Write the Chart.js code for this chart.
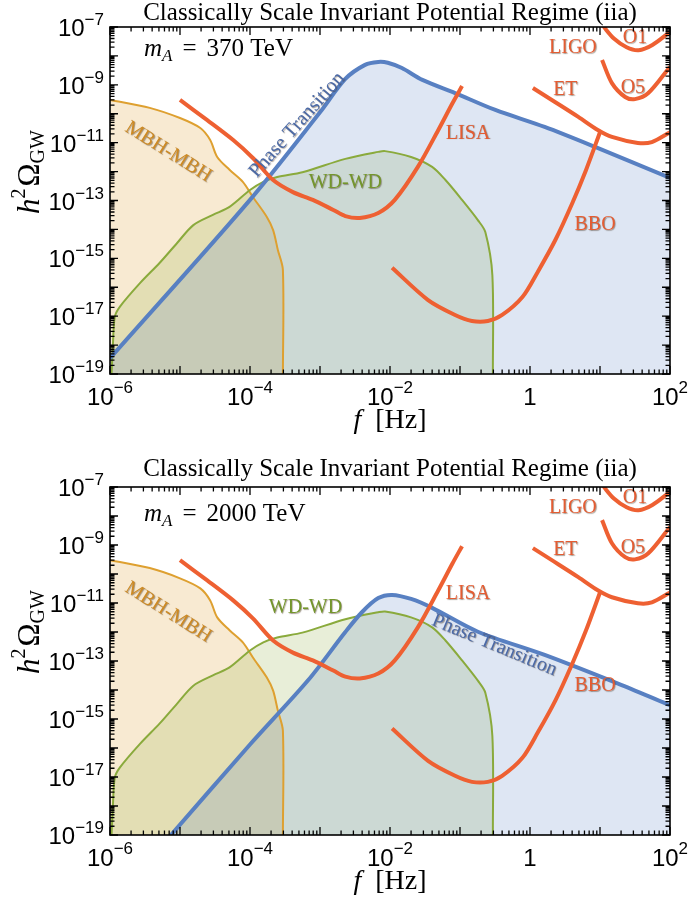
<!DOCTYPE html>
<html><head><meta charset="utf-8">
<script src="https://cdn.jsdelivr.net/npm/chart.js@4.4.1/dist/chart.umd.min.js"></script>
<style>
html,body{margin:0;padding:0;background:#fff;}
canvas{display:block;}
</style></head><body>
<canvas id="c1" width="691" height="455"></canvas>
<canvas id="c2" width="691" height="454"></canvas>
<script>
// ---------- text ----------
const TITLE = 'Classically Scale Invariant Potential Regime (iia)';
const massLabels = ['370 TeV', '2000 TeV'];

// ---------- ticks ----------
const xTickValues = [1e-6, 1e-4, 1e-2, 1, 1e2];
const xTickLabels = ['10^−6', '10^−4', '10^−2', '1', '10^2'];
const yTickValues = [1e-7, 1e-9, 1e-11, 1e-13, 1e-15, 1e-17, 1e-19];
const yTickLabels = ['10^−7', '10^−9', '10^−11', '10^−13', '10^−15', '10^−17', '10^−19'];

// ---------- astrophysical foregrounds ----------
const mbhF = [1e-6, 3.7e-6, 1e-5, 1.95e-5, 2.7e-5, 3.4e-5, 5.1e-5, 7.9e-5, 1.1e-4, 1.74e-4, 2.14e-4, 2.5e-4, 2.95e-4, 2.95e-4];
const mbhOmega = [3.0e-10, 1.6e-10, 7.1e-11, 3.2e-11, 1.23e-11, 3.2e-12, 1.15e-12, 4.4e-13, 1.32e-13, 2.7e-14, 9.5e-15, 1.95e-15, 4.0e-16, 8e-20];

const wdF = [1.05e-6, 1.1e-6, 1.17e-6, 1.38e-6, 2.7e-6, 5.1e-6, 9.1e-6, 1.55e-5, 2.95e-5, 5.1e-5, 1e-4, 1.55e-4, 2.45e-4, 5.6e-4, 2.3e-3, 6.8e-3, 8.5e-3, 2.0e-2, 4.0e-2, 6.2e-2, 0.107, 0.18, 0.23, 0.29, 0.295];
const wdOmega = [9e-20, 1e-18, 9.3e-18, 2.1e-17, 1.41e-16, 6.9e-16, 3.4e-15, 1.41e-14, 3.2e-14, 6.0e-14, 2.3e-13, 4.4e-13, 6.5e-13, 9.5e-13, 2.75e-12, 4.8e-12, 5.1e-12, 3.2e-12, 1.45e-12, 5.1e-13, 1.05e-13, 2.1e-14, 8.1e-15, 2.6e-16, 9e-20];

// ---------- phase transition signals ----------
const ptTopF = [1e-6, 1e-4, 1e-3, 2.3e-3, 4.4e-3, 6.8e-3, 9.3e-3, 1.48e-2, 2.9e-2, 8.5e-2, 0.32, 1.62, 8.5, 100];
const ptTopOmega = [3.5e-19, 1.05e-13, 1.12e-10, 1.6e-9, 4.9e-9, 6.2e-9, 5.8e-9, 3.8e-9, 1.48e-9, 5.2e-10, 1.35e-10, 3.5e-11, 7.1e-12, 6.0e-13];

const ptBotF = [6.3e-6, 1e-4, 6.8e-4, 2.3e-3, 4.0e-3, 6.8e-3, 1.07e-2, 2.0e-2, 4.0e-2, 0.18, 1.62, 20.4, 100];
const ptBotOmega = [6.3e-20, 1.32e-16, 2.2e-14, 1.0e-12, 4.9e-12, 1.48e-11, 1.9e-11, 1.38e-11, 6.8e-12, 1.02e-12, 1.62e-13, 1.48e-14, 3.0e-15];

// ---------- detector sensitivities ----------
const lisaF = [1e-5, 2.45e-5, 5.75e-5, 1.1e-4, 2.14e-4, 4.1e-4, 7.9e-4, 1.55e-3, 2.3e-3, 3.7e-3, 6.8e-3, 1.17e-2, 2.5e-2, 4.9e-2, 7.8e-2, 0.107];
const lisaOmega = [3.0e-10, 6.0e-11, 1.23e-11, 2.95e-12, 5.1e-13, 1.95e-13, 1.05e-13, 4.7e-14, 2.9e-14, 2.5e-14, 3.7e-14, 1.05e-13, 1.45e-12, 2.75e-11, 2.3e-10, 9.1e-10];

const bboF = [1.07e-2, 3.5e-2, 8.5e-2, 0.148, 0.25, 0.4, 0.78, 1.29, 2.3, 4.0, 6.3, 10];
const bboOmega = [4.7e-16, 3.6e-17, 1.1e-17, 6.8e-18, 6.8e-18, 1.1e-17, 4.6e-17, 3.4e-16, 4.3e-15, 7.9e-14, 1.12e-12, 2.3e-11];

const etF = [1.1, 2.05, 4.9, 9.3, 14.8, 34.7, 55, 100];
const etOmega = [7.8e-10, 3.0e-10, 7.8e-11, 2.75e-11, 1.58e-11, 9.8e-12, 1.05e-11, 2.3e-11];

const o1F = [11, 15.8, 24, 35.5, 56, 100];
const o1Omega = [1.1e-7, 4.0e-8, 2.0e-8, 1.58e-8, 2.4e-8, 6.8e-8];

const o5F = [10.7, 14.8, 22.9, 31.6, 49, 100];
const o5Omega = [7.2e-9, 1.15e-9, 3.8e-10, 3.2e-10, 5.2e-10, 4.2e-9];

// ---------- styles ----------
const SERIF = '"Liberation Serif","Times New Roman",serif';
const SANS = '"Liberation Sans",Arial,Helvetica,sans-serif';
const RED = 'rgb(238,96,50)';
const RED_TXT = 'rgb(228,92,50)';
const BLUE = 'rgb(88,128,194)';
const BLUE_TXT = 'rgb(76,106,166)';
const ORANGE = 'rgb(222,160,48)';
const ORANGE_TXT = 'rgb(205,138,36)';
const GREEN = 'rgb(138,170,60)';
const GREEN_TXT = 'rgb(116,150,44)';

const pts = (fs, os) => fs.map((f, i) => ({x: f, y: os[i]}));

function drawPow(ctx, label, x, y, align, baseSize, expSize, rise) {
  const parts = label.split('^');
  const b = parts[0], e = parts[1];
  ctx.font = baseSize + 'px ' + SANS;
  const wb = ctx.measureText(b).width;
  let we = 0;
  if (e) { ctx.font = expSize + 'px ' + SANS; we = ctx.measureText(e).width; }
  const total = wb + we;
  const x0 = align === 'center' ? x - total / 2 : (align === 'right' ? x - total : x);
  ctx.textAlign = 'left'; ctx.textBaseline = 'alphabetic';
  ctx.font = baseSize + 'px ' + SANS; ctx.fillText(b, x0, y);
  if (e) { ctx.font = expSize + 'px ' + SANS; ctx.fillText(e, x0 + wb, y - rise); }
}

function drawRuns(ctx, runs, x, y, align) {
  let total = 0;
  runs.forEach(r => { ctx.font = r.font; r.w = ctx.measureText(r.t).width; total += r.w + (r.gap || 0); });
  let cx = align === 'center' ? x - total / 2 : x;
  ctx.textAlign = 'left'; ctx.textBaseline = 'alphabetic';
  runs.forEach(r => { ctx.font = r.font; ctx.fillText(r.t, cx, y + (r.dy || 0)); cx += r.w + (r.gap || 0); });
}

function makeChart(id, ptF, ptOmega, cfg) {
  const canvas = document.getElementById(id);
  const H = canvas.height;
  const decor = {
    id: 'decor',
    afterDraw(chart) {
      const ctx = chart.ctx, a = chart.chartArea;
      const xs = chart.scales.x, ys = chart.scales.y;
      ctx.save();
      // curve labels
      cfg.labels.forEach(l => {
        const px = xs.getPixelForValue(l.f), py = ys.getPixelForValue(l.o);
        ctx.save();
        ctx.translate(px, py);
        if (l.rot) ctx.rotate(l.rot * Math.PI / 180);
        ctx.font = '20px ' + SERIF;
        ctx.shadowColor = 'rgba(60,40,20,0.45)';
        ctx.shadowOffsetX = 0.8; ctx.shadowOffsetY = 0.8; ctx.shadowBlur = 1;
        ctx.fillStyle = l.c;
        ctx.textAlign = 'center'; ctx.textBaseline = 'middle';
        ctx.fillText(l.t, 0, 0);
        ctx.restore();
      });
      // frame
      ctx.strokeStyle = '#000'; ctx.lineWidth = 1.6;
      ctx.strokeRect(a.left, a.top, a.right - a.left, a.bottom - a.top);
      // ticks
      ctx.lineWidth = 1.3;
      ctx.beginPath();
      for (let n = -6; n <= 2; n++) {
        for (let k = 1; k <= 9; k++) {
          if (n === 2 && k > 1) break;
          const v = k * Math.pow(10, n);
          const px = xs.getPixelForValue(v);
          const len = k === 1 ? 8 : 4.5;
          ctx.moveTo(px, a.bottom); ctx.lineTo(px, a.bottom - len);
          ctx.moveTo(px, a.top); ctx.lineTo(px, a.top + len);
        }
      }
      for (let n = -19; n <= -7; n++) {
        for (let k = 1; k <= 9; k++) {
          if (n === -7 && k > 1) break;
          const v = k * Math.pow(10, n);
          const py = ys.getPixelForValue(v);
          const len = k === 1 ? 8 : 4.5;
          ctx.moveTo(a.left, py); ctx.lineTo(a.left + len, py);
          ctx.moveTo(a.right, py); ctx.lineTo(a.right - len, py);
        }
      }
      ctx.stroke();
      // tick labels
      ctx.fillStyle = '#000';
      xTickValues.forEach((v, i) => {
        drawPow(ctx, xTickLabels[i], xs.getPixelForValue(v), a.bottom + 31, 'center', 24, 17, 12);
      });
      yTickValues.forEach((v, i) => {
        drawPow(ctx, yTickLabels[i], a.left - 6, ys.getPixelForValue(v) + 9, 'right', 24, 17, 11);
      });
      // title
      ctx.font = '25px ' + SERIF; ctx.textAlign = 'center'; ctx.textBaseline = 'alphabetic';
      ctx.fillText(TITLE, (a.left + a.right) / 2, cfg.titleY);
      // mass annotation
      drawRuns(ctx, [
        {t: 'm', font: 'italic 25px ' + SERIF},
        {t: 'A', font: 'italic 17px ' + SERIF, dy: 5, gap: 10},
        {t: '=', font: '25px ' + SERIF, gap: 10},
        {t: cfg.mass, font: '25px ' + SERIF}
      ], a.left + 34, a.top + cfg.massDy, 'left');
      // x axis title
      drawRuns(ctx, [
        {t: 'f', font: 'italic 28px ' + SERIF, gap: 14},
        {t: '[Hz]', font: '28px ' + SERIF}
      ], (a.left + a.right) / 2, a.bottom + 54, 'center');
      // y axis title
      ctx.save();
      ctx.translate(39, a.top + 145);
      ctx.rotate(-Math.PI / 2);
      drawRuns(ctx, [
        {t: 'h', font: 'italic 31px ' + SERIF},
        {t: '2', font: '20px ' + SERIF, dy: -14, gap: 2},
        {t: 'Ω', font: '31px ' + SERIF},
        {t: 'GW', font: '20px ' + SERIF, dy: 5}
      ], 0, 0, 'center');
      ctx.restore();
      ctx.restore();
    }
  };

  const line = (label, fs, os, color, width, fillColor) => ({
    label, data: pts(fs, os), borderColor: color, borderWidth: width,
    pointRadius: 0, tension: 0.3, fill: fillColor ? 'start' : false,
    backgroundColor: fillColor || 'transparent'
  });

  return new Chart(canvas, {
    type: 'line',
    data: {
      datasets: [
        line('LISA', lisaF, lisaOmega, RED, 4),
        line('BBO', bboF, bboOmega, RED, 4),
        line('ET', etF, etOmega, RED, 4),
        line('LIGO O1', o1F, o1Omega, RED, 4),
        line('LIGO O5', o5F, o5Omega, RED, 4),
        line('Phase Transition', ptF, ptOmega, BLUE, 4, 'rgba(88,128,194,0.2)'),
        line('WD-WD', wdF, wdOmega, GREEN, 2, 'rgba(138,170,60,0.2)'),
        line('MBH-MBH', mbhF, mbhOmega, ORANGE, 2, 'rgba(224,160,48,0.22)')
      ]
    },
    options: {
      responsive: false, animation: false, devicePixelRatio: 1,
      layout: {padding: {left: 0, right: 21, top: cfg.top, bottom: 0}},
      plugins: {legend: {display: false}, tooltip: {enabled: false}, title: {display: false},
        filler: {drawTime: 'beforeDatasetsDraw'}},
      scales: {
        x: {type: 'logarithmic', min: 1e-6, max: 1e2,
          ticks: {display: false}, grid: {display: false}, border: {display: false},
          afterFit: s => { s.height = H - cfg.bottom; }},
        y: {type: 'logarithmic', min: 1e-19, max: 1e-7,
          ticks: {display: false}, grid: {display: false}, border: {display: false},
          afterFit: s => { s.width = 110; }}
      }
    },
    plugins: [decor]
  });
}

const commonLabels = [
  {t: 'LIGO', f: 4.1, o: 1.86e-8, c: RED_TXT},
  {t: 'O1', f: 31.6, o: 4.2e-8, c: RED_TXT},
  {t: 'O5', f: 29.5, o: 7.8e-10, c: RED_TXT},
  {t: 'ET', f: 3.2, o: 6.6e-10, c: RED_TXT},
  {t: 'LISA', f: 0.13, o: 2.1e-11, c: RED_TXT},
  {t: 'BBO', f: 8.5, o: 1.41e-14, c: RED_TXT},
  {t: 'MBH-MBH', f: 6.8e-6, o: 4.8e-12, c: ORANGE_TXT, rot: 32}
];

makeChart('c1', ptTopF, ptTopOmega, {
  top: 27, bottom: 374, titleY: 20, massDy: 29, mass: massLabels[0],
  labels: commonLabels.concat([
    {t: 'WD-WD', f: 2.3e-3, o: 4.1e-13, c: GREEN_TXT},
    {t: 'Phase Transition', f: 4.7e-4, o: 4.1e-11, c: BLUE_TXT, rot: -48.5}
  ])
});
makeChart('c2', ptBotF, ptBotOmega, {
  top: 32, bottom: 380, titleY: 21, massDy: 34, mass: massLabels[1],
  labels: commonLabels.concat([
    {t: 'WD-WD', f: 6.2e-4, o: 6.8e-12, c: GREEN_TXT},
    {t: 'Phase Transition', f: 0.31, o: 3.5e-13, c: BLUE_TXT, rot: 22.5}
  ])
});
</script>
</body></html>
